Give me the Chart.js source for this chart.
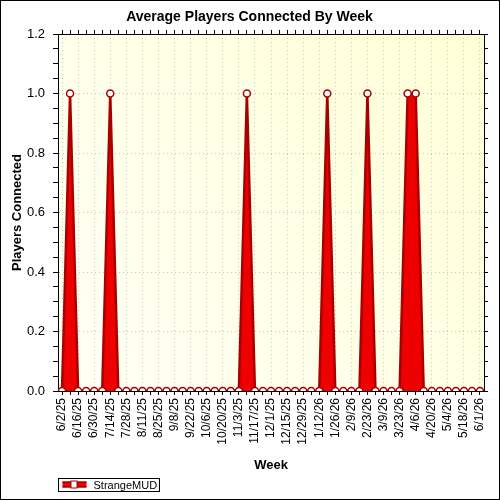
<!DOCTYPE html>
<html>
<head>
<meta charset="utf-8">
<script src="https://cdn.jsdelivr.net/npm/chart.js@4/dist/chart.umd.min.js"></script>
<style>
  html, body { margin: 0; padding: 0; background: #fff; }
  #wrap { width: 500px; height: 500px; }
</style>
</head>
<body>
<div id="wrap"><canvas id="playersChart" width="500" height="500"></canvas></div>
<script>
// Weekly buckets (every 2nd one gets a label on the axis)
const weeks = [
  '6/2/25', '6/9/25', '6/16/25', '6/23/25', '6/30/25', '7/7/25', '7/14/25', '7/21/25',
  '7/28/25', '8/4/25', '8/11/25', '8/18/25', '8/25/25', '9/1/25', '9/8/25', '9/15/25',
  '9/22/25', '9/29/25', '10/6/25', '10/13/25', '10/20/25', '10/27/25', '11/3/25', '11/10/25',
  '11/17/25', '11/24/25', '12/1/25', '12/8/25', '12/15/25', '12/22/25', '12/29/25', '1/5/26',
  '1/12/26', '1/19/26', '1/26/26', '2/2/26', '2/9/26', '2/16/26', '2/23/26', '3/2/26',
  '3/9/26', '3/16/26', '3/23/26', '3/30/26', '4/6/26', '4/13/26', '4/20/26', '4/27/26',
  '5/4/26', '5/11/26', '5/18/26', '5/25/26', '6/1/26'
];

// Average players connected, StrangeMUD
const strangeMud = [
  0, 1, 0, 0, 0, 0, 1, 0,
  0, 0, 0, 0, 0, 0, 0, 0,
  0, 0, 0, 0, 0, 0, 0, 1,
  0, 0, 0, 0, 0, 0, 0, 0,
  0, 1, 0, 0, 0, 0, 1, 0,
  0, 0, 0, 1, 1, 0, 0, 0,
  0, 0, 0, 0, 0
];

const yTicks = { min: 0, max: 1.2, step: 0.05, labelEvery: 0.2 };

const FONT = "'Liberation Sans', Arial, sans-serif";
const RED = '#ee0000';
const DARK_RED = '#a80000';
const GRID = '#c8c8c8';

const isMajorY = v => Math.abs(v / yTicks.labelEvery - Math.round(v / yTicks.labelEvery)) < 1e-6;

// page background, frame and plot gradient
const backdrop = {
  id: 'backdrop',
  beforeDraw(chart) {
    const { ctx, chartArea: a } = chart;
    ctx.save();
    ctx.fillStyle = '#fff';
    ctx.fillRect(0, 0, chart.width, chart.height);
    const g = ctx.createLinearGradient(a.left, a.bottom, a.right, a.top);
    g.addColorStop(0, '#fffff6');
    g.addColorStop(1, '#ffffd6');
    ctx.fillStyle = g;
    ctx.fillRect(a.left, a.top, a.right - a.left, a.bottom - a.top);
    ctx.restore();
  },
  afterDraw(chart) {
    const ctx = chart.ctx;
    ctx.save();
    ctx.strokeStyle = '#000';
    ctx.lineWidth = 1;
    ctx.strokeRect(0.5, 0.5, chart.width - 1, chart.height - 1);
    ctx.restore();
  }
};

// boxed legend in the bottom-left corner
const boxLegend = {
  id: 'boxLegend',
  afterDraw(chart) {
    const ctx = chart.ctx;
    const ds = chart.data.datasets[0];
    const x = 58.5, y = 478.5, w = 101, h = 13;
    ctx.save();
    ctx.strokeStyle = '#000';
    ctx.lineWidth = 1;
    ctx.strokeRect(x, y, w, h);
    // symbol
    ctx.fillStyle = RED;
    ctx.fillRect(x + 4, y + 3, 24, 6);
    ctx.fillStyle = DARK_RED;
    ctx.fillRect(x + 4, y + 3, 24, 1.5);
    ctx.fillRect(x + 4, y + 7.5, 24, 1.5);
    ctx.fillStyle = '#fff';
    ctx.strokeStyle = DARK_RED;
    ctx.fillRect(x + 12.5, y + 2.5, 6, 7);
    ctx.strokeRect(x + 12.5, y + 2.5, 6, 7);
    ctx.fillStyle = '#000';
    ctx.font = '11px ' + FONT;
    ctx.textBaseline = 'middle';
    ctx.fillText(ds.label, x + 35, y + h / 2 + 0.5);
    ctx.restore();
  }
};

new Chart(document.getElementById('playersChart').getContext('2d'), {
  type: 'line',
  data: {
    labels: weeks,
    datasets: [{
      label: 'StrangeMUD',
      data: strangeMud,
      borderColor: DARK_RED,
      borderWidth: 2.5,
      backgroundColor: RED,
      fill: 'origin',
      tension: 0,
      pointRadius: 3.5,
      pointBorderWidth: 1.5,
      pointBackgroundColor: '#fff',
      pointBorderColor: DARK_RED,
      pointHoverRadius: 3.5
    }]
  },
  options: {
    responsive: false,
    animation: false,
    events: [],
    layout: { padding: { left: 10, right: 11, top: 0, bottom: 27 } },
    plugins: {
      legend: { display: false },
      tooltip: { enabled: false },
      title: {
        display: true,
        text: 'Average Players Connected By Week',
        color: '#000',
        font: { family: FONT, size: 14, weight: 'bold' },
        padding: { top: 9, bottom: 4 }
      }
    },
    scales: {
      x: {
        type: 'category',
        position: 'bottom',
        offset: true,
        afterFit: s => { s.height = 82; },
        border: { display: true, color: '#000', width: 1, dash: [1, 3] },
        grid: {
          color: c => (c.index % 2 === 0 ? GRID : 'rgba(0,0,0,0)'),
          tickColor: '#000',
          tickBorderDash: [],
          tickLength: 4
        },
        ticks: {
          autoSkip: false,
          maxRotation: 90,
          minRotation: 90,
          padding: 3,
          color: '#000',
          font: { family: FONT, size: 12 },
          callback: (v, i) => (i % 2 === 0 ? weeks[i] : '')
        },
        title: {
          display: true,
          text: 'Week',
          color: '#000',
          font: { family: FONT, size: 13, weight: 'bold' },
          padding: 0
        }
      },
      x2: {
        type: 'category',
        position: 'top',
        offset: true,
        afterFit: s => { s.height = 4.2; },
        border: { display: true, color: '#000', width: 1 },
        grid: { drawOnChartArea: false, tickColor: '#000', tickLength: 4 },
        ticks: { display: false, autoSkip: false }
      },
      y: {
        type: 'linear',
        position: 'left',
        min: yTicks.min,
        max: yTicks.max,
        afterFit: s => { s.width = 48; },
        border: { display: true, color: '#000', width: 1, dash: [1, 3] },
        grid: {
          color: c => (c.tick && isMajorY(c.tick.value) ? GRID : 'rgba(0,0,0,0)'),
          tickColor: '#000',
          tickBorderDash: [],
          tickLength: 5
        },
        ticks: {
          stepSize: yTicks.step,
          autoSkip: false,
          padding: 8,
          color: '#000',
          font: { family: FONT, size: 13 },
          callback: v => (isMajorY(v) ? v.toFixed(1) : '')
        },
        title: {
          display: true,
          text: 'Players Connected',
          color: '#000',
          font: { family: FONT, size: 13, weight: 'bold' },
          padding: 0
        }
      },
      y2: {
        type: 'linear',
        position: 'right',
        min: yTicks.min,
        max: yTicks.max,
        afterFit: s => { s.width = 5; },
        border: { display: true, color: '#000', width: 1 },
        grid: { drawOnChartArea: false, tickColor: '#000', tickLength: 4 },
        ticks: { display: false, stepSize: yTicks.step, autoSkip: false }
      }
    }
  },
  plugins: [backdrop, boxLegend]
});
</script>
</body>
</html>
